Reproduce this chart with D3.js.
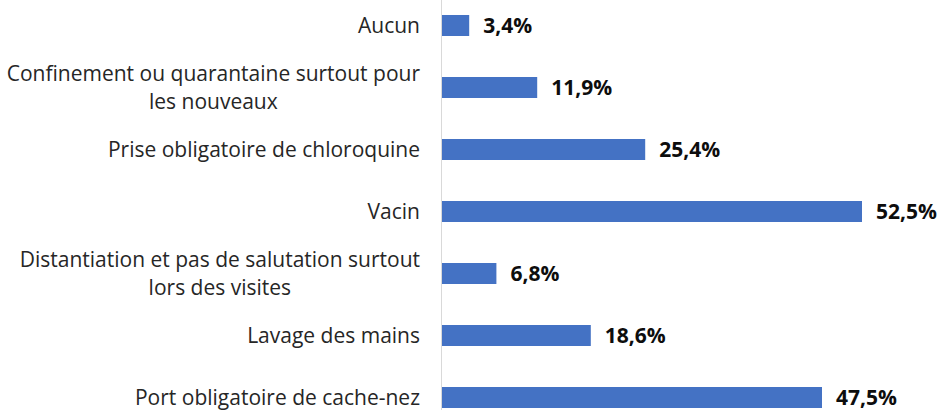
<!DOCTYPE html>
<html>
<head>
<meta charset="utf-8">
<script src="https://cdn.jsdelivr.net/npm/d3@7"></script>
<style>
  body { margin: 0; background: #fff; }
  svg { display: block; }
  .cat { font-family: "Open Sans", sans-serif; font-size: 21px; fill: #262626; }
  .val { font-family: "Open Sans", sans-serif; font-size: 21px; font-weight: bold; fill: #0d0d0d; }
</style>
</head>
<body>
<svg width="943" height="410"></svg>
<script>
// categories, top to bottom (each entry = lines of the label)
var categories = [
    ['Aucun'],
    ['Confinement ou quarantaine surtout pour', 'les nouveaux'],
    ['Prise obligatoire de chloroquine'],
    ['Vacin'],
    ['Distantiation et pas de salutation surtout', 'lors des visites'],
    ['Lavage des mains'],
    ['Port obligatoire de cache-nez']
]
var values = [3.4, 11.9, 25.4, 52.5, 6.8, 18.6, 47.5]
var valueLabels = ['3,4%', '11,9%', '25,4%', '52,5%', '6,8%', '18,6%', '47,5%']

var svg = d3.select('svg')

var xScale = d3.scaleLinear()
    .domain([0, 52.5]).range([442, 862])

var yScale = d3.scaleBand()
    .domain(d3.range(categories.length))
    .range([-5.5, 428.5])
    .paddingInner(0.6613)
    .paddingOuter(0.3306)

// axis line
svg.append('line')
    .attr('x1', 441.5).attr('x2', 441.5)
    .attr('y1', 0).attr('y2', 410)
    .attr('stroke', '#d9d9d9')
    .attr('stroke-width', 1)

svg.append('g')
    .selectAll('rect')
    .data(values)
    .enter()
    .append('rect')
    .attr('x', xScale(0))
    .attr('y', function(d, i) { return yScale(i) })
    .attr('width', function(d) { return xScale(d) - xScale(0) })
    .attr('height', yScale.bandwidth())
    .attr('fill', '#4472c4')

svg.append('g')
    .selectAll('text')
    .data(values)
    .enter()
    .append('text')
    .attr('class', 'val')
    .attr('x', function(d) { return xScale(d) + 14 })
    .attr('y', function(d, i) { return yScale(i) + yScale.bandwidth() / 2 })
    .attr('dy', '0.36em')
    .text(function(d, i) { return valueLabels[i] })

// category labels, multi-line ones centred on their widest line
var lineH = 28
var labels = svg.append('g')
categories.forEach(function(lines, i) {
    var cy = yScale(i) + yScale.bandwidth() / 2
    var t = labels.append('text').attr('class', 'cat')
    var first = cy - (lines.length - 1) * lineH / 2
    lines.forEach(function(l, j) {
        t.append('tspan').attr('y', first + j * lineH).attr('dy', '0.36em').text(l)
    })
    var w = 0
    t.selectAll('tspan').each(function() { w = Math.max(w, this.getComputedTextLength()) })
    t.attr('text-anchor', 'middle')
    t.selectAll('tspan').attr('x', 420 - w / 2)
})
</script>
</body>
</html>
